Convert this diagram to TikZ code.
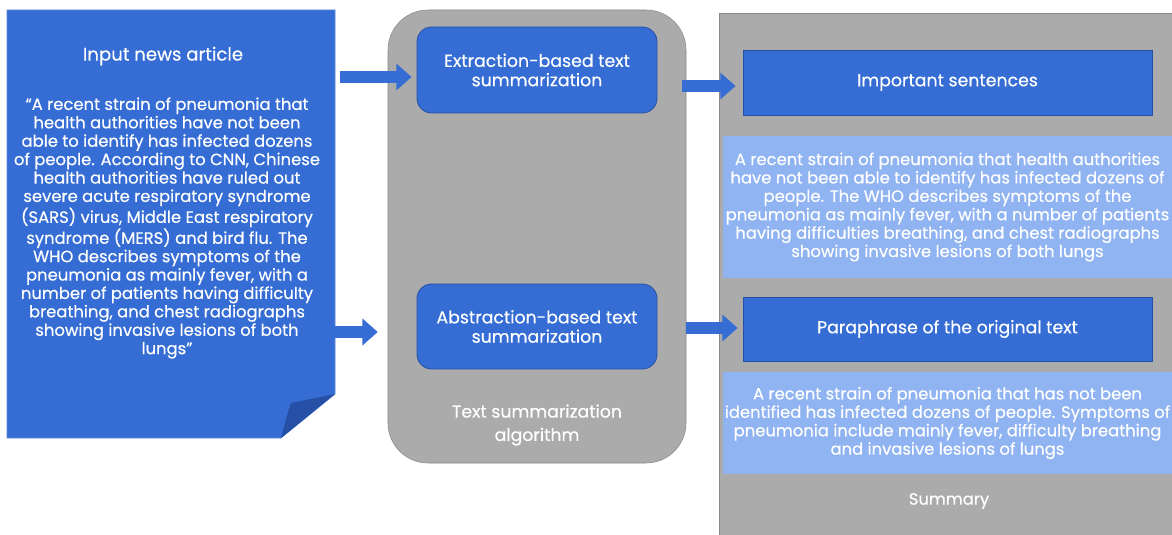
\documentclass[tikz,border=0pt]{standalone}
\usepackage{fontspec}
\setmainfont{Poppins}[FakeBold=0.35]
\usetikzlibrary{positioning,arrows.meta}

\definecolor{docblue}{HTML}{356DD4}
\definecolor{folddark}{HTML}{2650A6}
\definecolor{panelgray}{HTML}{ABABAB}
\definecolor{paneledge}{HTML}{8A8A8A}
\definecolor{lightblue}{HTML}{90B3F2}

\tikzset{
  txt/.style={text=white, align=center, font=\fontsize{12.3}{13.8}\selectfont},
  head/.style={text=white, align=center, font=\fontsize{13}{15}\selectfont},
  bluebox/.style={draw=folddark, fill=docblue, line width=0.6pt},
  lightbox/.style={fill=lightblue, inner sep=0pt},
  blockarrow/.style={draw=docblue, line width=9.5pt,
    -{Triangle[width=19.5pt,length=11.5pt]}},
}

\begin{document}
\begin{tikzpicture}[x=0.75pt,y=-0.75pt]
  \clip (0,0) rectangle (1172,535);
  \fill[white] (0,0) rectangle (1172,535);

  % input article (page with folded corner)
  \filldraw[fill=docblue, draw=docblue!80!white, line width=0.5pt]
    (7,10) -- (335,10) -- (335,394) -- (281,438) -- (7,438) -- cycle;
  \fill[folddark] (335,394) -- (291,403) .. controls (287,415) .. (281,438) -- cycle;
  \node[head, font=\fontsize{13.6}{16}\selectfont] (title) at (163,56) {Input news article};
  \node[txt] (quote) at (167,228) {“A recent strain of pneumonia that\\
    health authorities have not been\\
    able to identify has infected dozens\\
    of people. According to CNN, Chinese\\
    health authorities have ruled out\\
    severe acute respiratory syndrome\\
    (SARS) virus, Middle East respiratory\\
    syndrome (MERS) and bird flu. The\\
    WHO describes symptoms of the\\
    pneumonia as mainly fever, with a\\
    number of patients having difficulty\\
    breathing, and chest radiographs\\
    showing invasive lesions of both\\
    lungs”};

  % algorithm panel
  \node[draw=paneledge, fill=panelgray, rounded corners=30pt,
    minimum width=223.5pt, minimum height=339.75pt] (algo) at (537,236.5) {};
  \node[bluebox, rounded corners=11pt, minimum width=180pt, minimum height=64.5pt,
    txt, font=\fontsize{13}{14.5}\selectfont] (extract) at (537,70)
    {Extraction-based text\\summarization};
  \node[bluebox, rounded corners=11pt, minimum width=180pt, minimum height=63.75pt,
    txt, font=\fontsize{13}{14.5}\selectfont] (abstract) at (537,326.5)
    {Abstraction-based text\\summarization};
  \node[txt, font=\fontsize{13}{17.5}\selectfont] (algolabel) at (537,425)
    {Text summarization\\algorithm};

  % summary panel
  \fill[panelgray] (719,13) rectangle (1190,550);
  \draw[paneledge, line width=0.6pt] (719,550) -- (719,13) -- (1190,13);
  \node[bluebox, minimum width=306.75pt, minimum height=48.75pt, head]
    (important) at (947.5,82.5) {Important sentences};
  \node[lightbox, minimum width=336.75pt, minimum height=106.5pt, txt]
    (imptext) at (947.5,207)
    {A recent strain of pneumonia that health authorities\\
     have not been able to identify has infected dozens of\\
     people. The WHO describes symptoms of the\\
     pneumonia as mainly fever, with a number of patients\\
     having difficulties breathing, and chest radiographs\\
     showing invasive lesions of both lungs};
  \node[bluebox, minimum width=306.75pt, minimum height=48pt, head]
    (para) at (947.5,329) {Paraphrase of the original text};
  \node[lightbox, minimum width=336.75pt, minimum height=76.5pt, txt]
    (paratext) at (947.5,423)
    {A recent strain of pneumonia that has not been\\
     identified has infected dozens of people. Symptoms of\\
     pneumonia include mainly fever, difficulty breathing\\
     and invasive lesions of lungs};
  \node[txt, font=\fontsize{12.3}{14}\selectfont] (sumlabel) at (949,501) {Summary};

  % arrows
  \coordinate (a1) at (340,77);
  \coordinate (a2) at (307,332);
  \coordinate (a3) at (682,86);
  \coordinate (a4) at (686,328);
  \draw[blockarrow, shorten >=3.75pt] (a1) -- (a1 -| extract.west);
  \draw[blockarrow, shorten >=7.5pt] (a2) -- (a2 -| algo.west);
  \draw[blockarrow, shorten >=5.25pt] (a3) -- (a3 -| important.west);
  \draw[blockarrow, shorten >=3.75pt] (a4) -- (a4 -| para.west);
\end{tikzpicture}
\end{document}
